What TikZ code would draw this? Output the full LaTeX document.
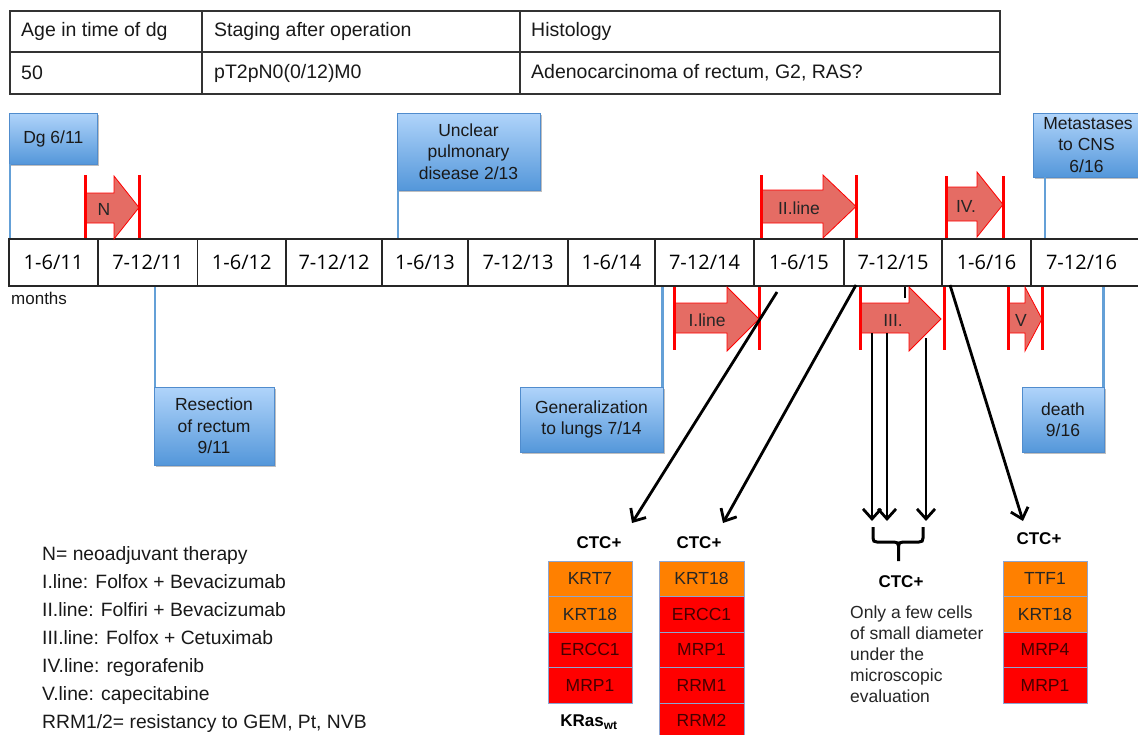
\documentclass[tikz,border=0pt]{standalone}
\usepackage{fontspec}
\setmainfont{Liberation Sans}
\newfontfamily\tlfont{Open Sans}
\usetikzlibrary{arrows.meta,shadows}
\definecolor{bluetop}{RGB}{176,212,250}
\definecolor{bluebot}{RGB}{84,151,218}
\definecolor{blueedge}{RGB}{80,140,205}
\definecolor{blueline}{RGB}{100,160,215}
\definecolor{salmon}{RGB}{229,108,100}
\definecolor{orangebox}{RGB}{255,128,0}
\definecolor{redbox}{RGB}{255,0,0}
\definecolor{boxedge}{RGB}{140,165,210}
\definecolor{darkred}{RGB}{70,0,0}
\begin{document}
\begin{tikzpicture}[x=1pt,y=-1pt,
  tabtxt/.style={anchor=west,inner sep=0pt,font=\fontsize{19.5}{23}\selectfont,text=black!90},
  tabline/.style={draw=black!80,line width=1.5pt},
  cell/.style={draw=black!85,line width=1.2pt,minimum height=47pt,inner sep=0pt,font=\tlfont\fontsize{20}{24}\selectfont},
  event/.style={draw=blueedge,line width=0.8pt,top color=bluetop,bottom color=bluebot,align=center,inner sep=0pt,font=\fontsize{17.5}{21.5}\selectfont,text=black!90,drop shadow={shadow xshift=1.5pt,shadow yshift=-1.5pt,opacity=0.25,fill=black}},
  eventline/.style={draw=blueline,line width=2.2pt},
  therapy/.style={fill=salmon,draw=red,line width=0.8pt},
  thbar/.style={draw=red,line width=3pt},
  thlabel/.style={font=\fontsize{17.5}{20}\selectfont,text=black!85,inner sep=0pt},
  ctcarrow/.style={draw=black,line width=2.8pt,-{Straight Barb[length=10pt,width=18pt,line width=2.8pt]}},
  ctc/.style={font=\bfseries\fontsize{17}{20}\selectfont,inner sep=0pt},
  mkbox/.style={draw=boxedge,line width=1pt,minimum width=84pt,minimum height=35.5pt,inner sep=0pt,font=\fontsize{17.5}{20}\selectfont},
  orangemk/.style={mkbox,fill=orangebox,text=black!85},
  redmk/.style={mkbox,fill=redbox,text=darkred},
]
\useasboundingbox (0,0) rectangle (1138,734);
\fill[white] (0,0) rectangle (1138,734);

% ---- table ----
\draw[tabline] (10,11) rectangle (1000,94);
\draw[tabline] (10,52) -- (1000,52);
\draw[tabline] (202,11) -- (202,94);
\draw[tabline] (520,11) -- (520,94);
\node[tabtxt] (h1) at (21,31) {Age in time of dg};
\node[tabtxt] (h2) at (214,31) {Staging after operation};
\node[tabtxt] (h3) at (531,31) {Histology};
\node[tabtxt] (v1) at (21,73) {50};
\node[tabtxt] (v2) at (214,73) {pT2pN0(0/12)M0};
\node[tabtxt] (v3) at (531,73) {Adenocarcinoma of rectum, G2, RAS?};

% ---- timeline ----
\node[cell,minimum width=89pt] (t1) at (53.5,262.5) {1-6/11};
\node[cell,minimum width=99.5pt] (t2) at (147.75,262.5) {7-12/11};
\node[cell,minimum width=88.5pt] (t3) at (241.75,262.5) {1-6/12};
\node[cell,minimum width=96pt] (t4) at (334,262.5) {7-12/12};
\node[cell,minimum width=86pt] (t5) at (425,262.5) {1-6/13};
\node[cell,minimum width=100pt] (t6) at (518,262.5) {7-12/13};
\node[cell,minimum width=87pt] (t7) at (611.5,262.5) {1-6/14};
\node[cell,minimum width=99pt] (t8) at (704.5,262.5) {7-12/14};
\node[cell,minimum width=90pt] (t9) at (799,262.5) {1-6/15};
\node[cell,minimum width=98pt] (t10) at (893,262.5) {7-12/15};
\node[cell,minimum width=89pt] (t11) at (986.5,262.5) {1-6/16};
\node[cell,minimum width=109pt] (t12) at (1085.5,262.5) {\hspace*{-8pt}7-12/16};
\node[anchor=west,inner sep=0pt,font=\fontsize{17}{20}\selectfont,text=black!90] (months) at (11,298) {months};

% ---- events ----
\node[event,minimum width=88.5pt,minimum height=51pt] (dg) at (53.25,138.5) {Dg 6/11};
\node[event,minimum width=143pt,minimum height=77pt] (unc) at (468.5,151.5) {Unclear\\pulmonary\\disease 2/13};
\node[event,minimum width=107pt,minimum height=64pt] (cns) at (1086.5,145) {\hspace*{3pt}Metastases\\to CNS\\6/16};
\node[event,minimum width=120pt,minimum height=78pt] (res) at (214,426) {Resection\\of rectum\\9/11};
\node[event,minimum width=143pt,minimum height=65pt] (gen) at (591.5,419.5) {Generalization\\to lungs 7/14};
\node[event,minimum width=82pt,minimum height=65pt] (death) at (1063,419.5) {death\\9/16};

\coordinate (dgl) at ([xshift=1pt]dg.south west);
\coordinate (uncl) at ([xshift=1pt]unc.south west);
\coordinate (cnsl) at ([xshift=12pt]cns.south west);
\coordinate (resl) at ([xshift=1pt]res.north west);
\coordinate (genl) at ([xshift=-1pt]gen.north east);
\coordinate (deathl) at ([xshift=-1pt]death.north east);
\draw[eventline] (dgl) -- (dgl |- t1.north);
\draw[eventline] (uncl) -- (uncl |- t5.north);
\draw[eventline] (cnsl) -- (cnsl |- t12.north);
\draw[eventline] (resl) -- (resl |- t2.south);
\draw[eventline] (genl) -- (genl |- t8.south);
\draw[eventline] (deathl) -- (deathl |- t12.south);

% ---- therapies above ----
\draw[therapy] (85,193) -- (114,193) -- (114,176) -- (139,207.5) -- (114,239) -- (114,223) -- (85,223) -- cycle;
\draw[thbar] (85,175) -- (85,238); \draw[thbar] (139,175) -- (139,238);
\node[thlabel] (lN) at (104,209) {N};

\draw[therapy] (761,190) -- (823,190) -- (823,175) -- (856,206.5) -- (823,238) -- (823,223) -- (761,223) -- cycle;
\draw[thbar] (761,175) -- (761,238); \draw[thbar] (856,175) -- (856,238);
\node[thlabel] (lII) at (799,208) {II.line};

\draw[therapy] (946,187) -- (977,187) -- (977,172) -- (1003,204.5) -- (977,237) -- (977,221) -- (946,221) -- cycle;
\draw[thbar] (946,176) -- (946,238); \draw[thbar] (1003,176) -- (1003,238);
\node[thlabel] (lIV) at (966,206) {IV.};

% ---- therapies below ----
\draw[therapy] (674,303) -- (727,303) -- (727,287) -- (759,319) -- (727,351) -- (727,333) -- (674,333) -- cycle;
\draw[thbar] (674,287) -- (674,350); \draw[thbar] (759,287) -- (759,350);
\node[thlabel] (lI) at (707,320) {I.line};

\draw[therapy] (860,303) -- (909,303) -- (909,287) -- (941,319) -- (909,351) -- (909,333) -- (860,333) -- cycle;
\draw[thbar] (860,287) -- (860,350); \draw[thbar] (944,287) -- (944,350);
\node[thlabel] (lIII) at (893,320) {III.};

\draw[therapy] (1008,303) -- (1025,303) -- (1025,287) -- (1042,319) -- (1025,351) -- (1025,333) -- (1008,333) -- cycle;
\draw[thbar] (1008,287) -- (1008,350); \draw[thbar] (1042,287) -- (1042,350);
\node[thlabel] (lV) at (1021,320) {V};

\draw[line width=2.5pt] (905,287) -- (905,298);

% ---- CTC arrows ----
\coordinate (a1s) at (777,292); \coordinate (a1e) at (632,523);
\coordinate (a2s) at (856,285); \coordinate (a2e) at (723,523);
\coordinate (a3s) at (872,333); \coordinate (a3e) at (872,521);
\coordinate (a4s) at (887,333); \coordinate (a4e) at (887,521);
\coordinate (a5s) at (926,338); \coordinate (a5e) at (926,521);
\coordinate (a6s) at (950,285); \coordinate (a6e) at (1023,521);
\foreach \i in {1,...,6} {\draw[ctcarrow] (a\i s) -- (a\i e);}

% brace
\draw[line width=3pt]
  (873,527) -- (873,538) .. controls (873,541) and (874,542) .. (877,542) -- (894,542)
  .. controls (897,542) and (898.5,543) .. (898.5,546) -- (898.5,561);
\draw[line width=3pt]
  (923,527) -- (923,538) .. controls (923,541) and (922,542) .. (919,542) -- (903,542)
  .. controls (900,542) and (898.5,543) .. (898.5,546);

% ---- CTC groups ----
\node[ctc] (ctc1) at (599,543) {CTC+};
\node[ctc] (ctc2) at (699,543) {CTC+};
\node[ctc] (ctc3) at (901,582) {CTC+};
\node[ctc] (ctc4) at (1039,539) {CTC+};

\node[orangemk] (c1a) at (590,578.75) {KRT7};
\node[orangemk] (c1b) at (590,614.25) {KRT18};
\node[redmk] (c1c) at (590,649.75) {ERCC1};
\node[redmk] (c1d) at (590,685.25) {MRP1};
\node[ctc] (kras) at (589,722) {KRas\textsubscript{wt}};

\node[orangemk,minimum width=85pt] (c2a) at (701.5,578.75) {KRT18};
\node[redmk,minimum width=85pt] (c2b) at (701.5,614.25) {ERCC1};
\node[redmk,minimum width=85pt] (c2c) at (701.5,649.75) {MRP1};
\node[redmk,minimum width=85pt] (c2d) at (701.5,685.25) {RRM1};
\node[redmk,minimum width=85pt] (c2e) at (701.5,720.75) {RRM2};

\node[anchor=west,align=left,inner sep=0pt,font=\fontsize{17.5}{21}\selectfont,text=black!85] (note) at (850,654.5) {Only a few cells\\of small diameter\\under the\\microscopic\\evaluation};

\node[orangemk] (c4a) at (1045,578.75) {TTF1};
\node[orangemk] (c4b) at (1045,614.25) {KRT18};
\node[redmk] (c4c) at (1045,649.75) {MRP4};
\node[redmk] (c4d) at (1045,685.25) {MRP1};

% ---- legend ----
\node[anchor=west,align=left,inner sep=0pt,font=\fontsize{19.3}{28}\selectfont,text=black!90] (legend) at (42,639)
 {N= neoadjuvant therapy\\I.line: Folfox + Bevacizumab\\II.line: Folfiri + Bevacizumab\\III.line: Folfox + Cetuximab\\IV.line: regorafenib\\V.line: capecitabine\\RRM1/2= resistancy to GEM, Pt, NVB};
\end{tikzpicture}
\end{document}
